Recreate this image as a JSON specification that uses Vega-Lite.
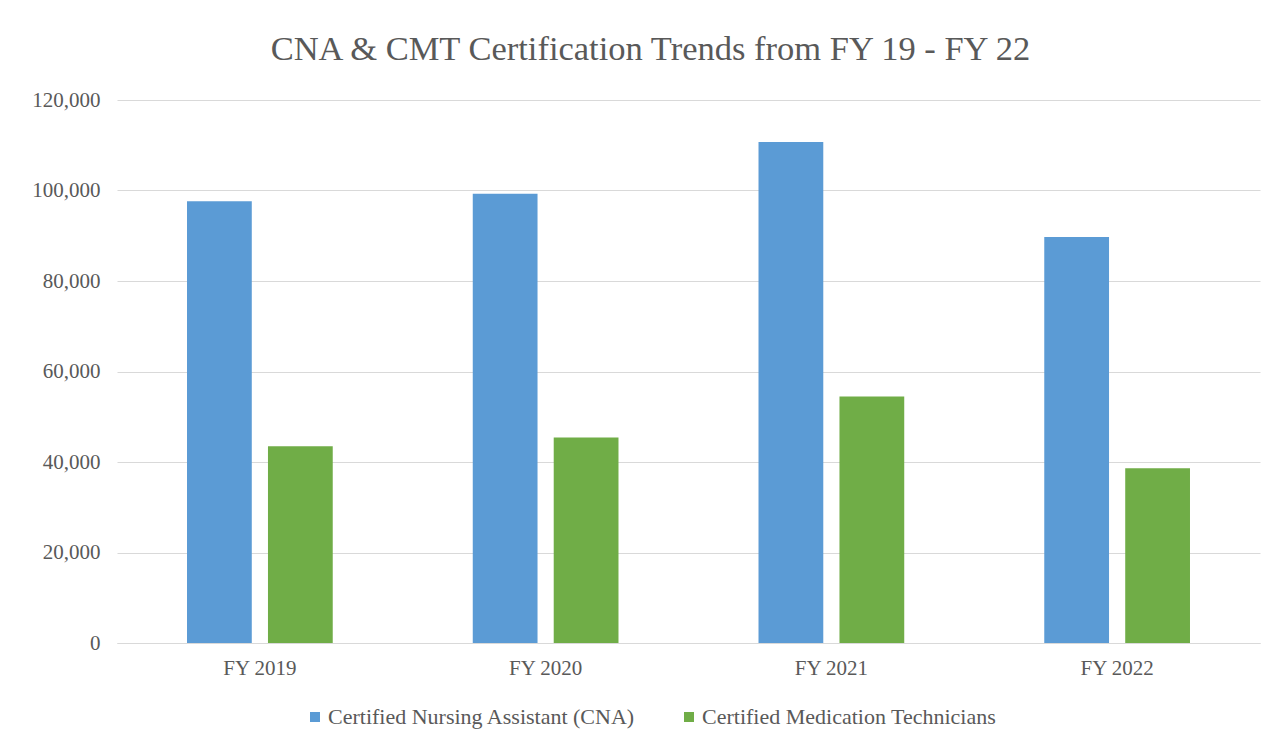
{
  "$schema": "https://vega.github.io/schema/vega-lite/v6.json",
  "width": 1143,
  "height": 543,
  "autosize": {"type": "none"},
  "padding": {"left": 117, "top": 100, "right": 18, "bottom": 99},
  "background": "white",
  "title": {
    "text": "CNA & CMT Certification  Trends from FY 19 - FY 22",
    "font": "Liberation Serif",
    "fontSize": 34.5,
    "fontWeight": "normal",
    "color": "#595959",
    "anchor": "middle",
    "dx": -38,
    "baseline": "alphabetic",
    "offset": -5
  },
  "data": {
    "values": [
      {"year": "FY 2019", "series": "Certified Nursing Assistant (CNA)", "value": 97600},
      {"year": "FY 2019", "series": "Certified Medication Technicians", "value": 43500},
      {"year": "FY 2020", "series": "Certified Nursing Assistant (CNA)", "value": 99300},
      {"year": "FY 2020", "series": "Certified Medication Technicians", "value": 45400},
      {"year": "FY 2021", "series": "Certified Nursing Assistant (CNA)", "value": 110700},
      {"year": "FY 2021", "series": "Certified Medication Technicians", "value": 54500},
      {"year": "FY 2022", "series": "Certified Nursing Assistant (CNA)", "value": 89700},
      {"year": "FY 2022", "series": "Certified Medication Technicians", "value": 38600}
    ]
  },
  "mark": {"type": "bar"},
  "encoding": {
    "x": {
      "field": "year",
      "type": "nominal",
      "sort": ["FY 2019", "FY 2020", "FY 2021", "FY 2022"],
      "scale": {"paddingInner": 0.49, "paddingOuter": 0.245},
      "axis": {
        "title": null,
        "labelAngle": 0,
        "labelFont": "Liberation Serif",
        "labelFontSize": 21,
        "labelColor": "#595959",
        "domainColor": "#D9D9D9",
        "domainWidth": 1,
        "ticks": false,
        "labelPadding": 14,
        "grid": false
      }
    },
    "xOffset": {
      "field": "series",
      "type": "nominal",
      "sort": ["Certified Nursing Assistant (CNA)", "Certified Medication Technicians"],
      "scale": {"paddingInner": 0.2, "paddingOuter": 0}
    },
    "y": {
      "field": "value",
      "type": "quantitative",
      "scale": {"domain": [0, 120000], "nice": false},
      "axis": {
        "title": null,
        "values": [0, 20000, 40000, 60000, 80000, 100000, 120000],
        "format": ",d",
        "domain": false,
        "ticks": false,
        "labelFont": "Liberation Serif",
        "labelFontSize": 21,
        "labelColor": "#595959",
        "labelPadding": 17,
        "gridColor": "#D9D9D9",
        "gridWidth": 1
      }
    },
    "color": {
      "field": "series",
      "type": "nominal",
      "sort": ["Certified Nursing Assistant (CNA)", "Certified Medication Technicians"],
      "scale": {
        "domain": ["Certified Nursing Assistant (CNA)", "Certified Medication Technicians"],
        "range": ["#5B9BD5", "#70AD47"]
      },
      "legend": {
        "title": null,
        "orient": "none",
        "legendX": 187,
        "legendY": 606,
        "direction": "horizontal",
        "symbolType": "square",
        "symbolSize": 100,
        "symbolStrokeWidth": 0,
        "labelFont": "Liberation Serif",
        "labelFontSize": 22,
        "labelColor": "#595959",
        "labelOffset": 2,
        "labelLimit": 0,
        "columnPadding": 42
      }
    }
  },
  "config": {
    "font": "Liberation Serif",
    "view": {"stroke": null},
    "legend": {"labelFont": "Liberation Serif", "labelLimit": 0}
  }
}
